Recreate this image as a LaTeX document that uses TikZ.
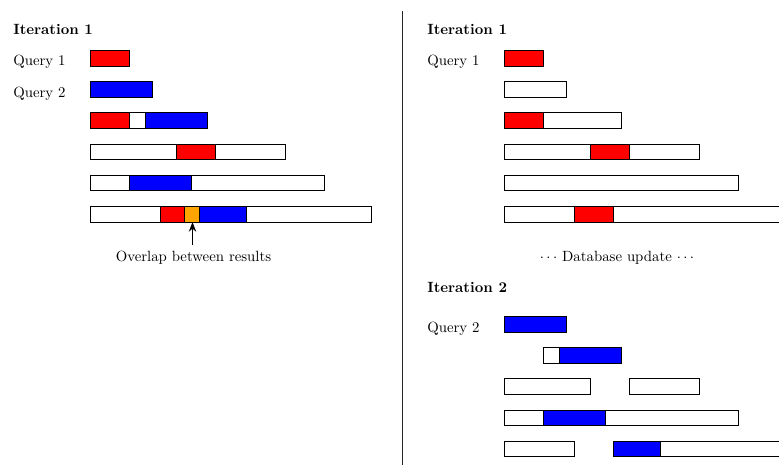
\documentclass[tikz,border=0pt]{standalone}
\usetikzlibrary{arrows.meta}
\definecolor{ovorange}{RGB}{255,165,0}
\newcommand\barseg[5]{\filldraw[segline, fill=#5] ({#1+7.8*#2},#4) rectangle ({#1+7.8*#3},{#4+15.6});}
\begin{document}
\begin{tikzpicture}[x=0.675pt,y=-0.675pt,
  segline/.style={draw=black, line width=0.6pt},
  lbl/.style={anchor=base west, inner sep=0pt},
  ctr/.style={anchor=base, inner sep=0pt},
  pointer/.style={line width=0.6pt, -{Stealth[length=6.5pt,width=5pt]}},
  divider/.style={line width=0.8pt, draw=black!85}]
\useasboundingbox (0,0) rectangle (779,465);
\clip (0,0) rectangle (779,465);
\def\L{90.5}
\def\R{504.5}
% ---------- left panel ----------
\node[lbl] (it1l) at (13,35) {\textbf{Iteration 1}};
\node[lbl] (q1l) at (13,66) {Query 1};
\node[lbl] (q2l) at (13,97.3) {Query 2};
\barseg{\L}{0}{5}{50.5}{red}
\barseg{\L}{0}{8}{81.7}{blue}
\barseg{\L}{0}{15}{112.9}{white}
\barseg{\L}{0}{5}{112.9}{red}
\barseg{\L}{7}{15}{112.9}{blue}
\barseg{\L}{0}{25}{144.1}{white}
\barseg{\L}{11}{16}{144.1}{red}
\barseg{\L}{0}{30}{175.3}{white}
\barseg{\L}{5}{13}{175.3}{blue}
\barseg{\L}{0}{36}{206.5}{white}
\barseg{\L}{9}{12}{206.5}{red}
\barseg{\L}{12}{14}{206.5}{ovorange}
\barseg{\L}{14}{20}{206.5}{blue}
\node[ctr] (ovl) at (193.5,262) {Overlap between results};
\coordinate (ovlbox) at (192.5,222.1);
\draw[pointer, shorten <=4pt] (ovlbox |- ovl.north) -- (ovlbox);
% ---------- divider ----------
\coordinate (divtop) at (402.8,11.5);
\coordinate (divbot) at (402.8,465);
\draw[divider] (divtop) -- (divbot);
% ---------- right panel, iteration 1 ----------
\node[lbl] (it1r) at (427,35) {\textbf{Iteration 1}};
\node[lbl] (q1r) at (427,66) {Query 1};
\barseg{\R}{0}{5}{50.5}{red}
\barseg{\R}{0}{8}{81.7}{white}
\barseg{\R}{0}{15}{112.9}{white}
\barseg{\R}{0}{5}{112.9}{red}
\barseg{\R}{0}{25}{144.1}{white}
\barseg{\R}{11}{16}{144.1}{red}
\barseg{\R}{0}{30}{175.3}{white}
\barseg{\R}{0}{36}{206.5}{white}
\barseg{\R}{9}{14}{206.5}{red}
\node[ctr] (dbu) at (617,262) {$\cdots$ Database update $\cdots$};
% ---------- right panel, iteration 2 ----------
\node[lbl] (it2) at (427,292.5) {\textbf{Iteration 2}};
\node[lbl] (q2r) at (427,332) {Query 2};
\barseg{\R}{0}{8}{316.5}{blue}
\barseg{\R}{5}{7}{347.7}{white}
\barseg{\R}{7}{15}{347.7}{blue}
\barseg{\R}{0}{11}{378.9}{white}
\barseg{\R}{16}{25}{378.9}{white}
\barseg{\R}{0}{30}{410.1}{white}
\barseg{\R}{5}{13}{410.1}{blue}
\barseg{\R}{0}{9}{441.3}{white}
\barseg{\R}{14}{36}{441.3}{white}
\barseg{\R}{14}{20}{441.3}{blue}
\end{tikzpicture}
\end{document}
